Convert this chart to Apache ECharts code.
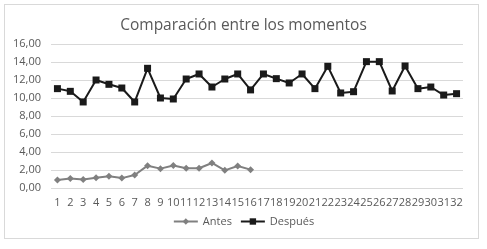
<!DOCTYPE html>
<html>
<head>
<meta charset="utf-8">
<script src="https://cdn.jsdelivr.net/npm/echarts@6/dist/echarts.min.js"></script>
<style>
  html, body { margin: 0; padding: 0; background: #fff; }
  #frame { position: absolute; left: 4px; top: 4px; width: 473px; height: 233px; border: 1px solid #d9d9d9; }
  #chart { position: absolute; left: 0; top: 0; width: 487px; height: 249px; }
</style>
</head>
<body>
<div id="frame"></div>
<div id="chart"></div>
<script>
// categorias 1..32
var categorias = ['1','2','3','4','5','6','7','8','9','10','11','12','13','14','15','16',
  '17','18','19','20','21','22','23','24','25','26','27','28','29','30','31','32'];
// valores
var antes = [0.89, 1.05, 0.95, 1.15, 1.3, 1.1, 1.45, 2.48, 2.15, 2.5, 2.2, 2.2, 2.78, 1.96, 2.44, 2.04];
var despues = [11.04, 10.74, 9.56, 12.0, 11.52, 11.11, 9.56, 13.3, 10.0, 9.89, 12.11, 12.67, 11.22, 12.11, 12.67, 10.9,
  12.67, 12.15, 11.67, 12.67, 11.04, 13.52, 10.56, 10.7, 14.04, 14.04, 10.78, 13.56, 11.04, 11.22, 10.33, 10.48];

var fuente = '"Open Sans", sans-serif';
var myChart = echarts.init(document.getElementById('chart'));
myChart.setOption({
  animation: false,
  title: {
    text: 'Comparación entre los momentos',
    left: 'center',
    top: 13,
    textStyle: { color: '#595959', fontSize: 15.5, fontWeight: 'normal', fontFamily: fuente }
  },
  legend: {
    bottom: 17,
    left: 'center',
    itemWidth: 24,
    itemHeight: 8,
    itemGap: 8,
    textStyle: { color: '#595959', fontSize: 11, fontFamily: fuente },
    data: ['Antes', 'Después']
  },
  grid: { left: 51, right: 24, top: 44, bottom: 61 },
  xAxis: {
    type: 'category',
    data: categorias,
    boundaryGap: true,
    axisLine: { show: false },
    axisTick: { show: false },
    axisLabel: { interval: 0, color: '#595959', fontSize: 11, fontFamily: fuente, margin: 9 }
  },
  yAxis: {
    type: 'value',
    min: 0, max: 16, interval: 2,
    axisLine: { show: false },
    axisTick: { show: false },
    splitLine: { lineStyle: { color: '#d9d9d9', width: 1 } },
    axisLabel: {
      color: '#595959', fontSize: 11, fontFamily: fuente, margin: 10,
      formatter: function (v) { return v.toFixed(2).replace('.', ','); }
    }
  },
  series: [
    {
      name: 'Antes', type: 'line', data: antes,
      symbol: 'diamond', symbolSize: 7,
      lineStyle: { color: '#808080', width: 2 },
      itemStyle: { color: '#808080' }
    },
    {
      name: 'Después', type: 'line', data: despues,
      symbol: 'rect', symbolSize: 7,
      lineStyle: { color: '#1a1a1a', width: 2 },
      itemStyle: { color: '#1a1a1a' }
    }
  ]
});
</script>
</body>
</html>
